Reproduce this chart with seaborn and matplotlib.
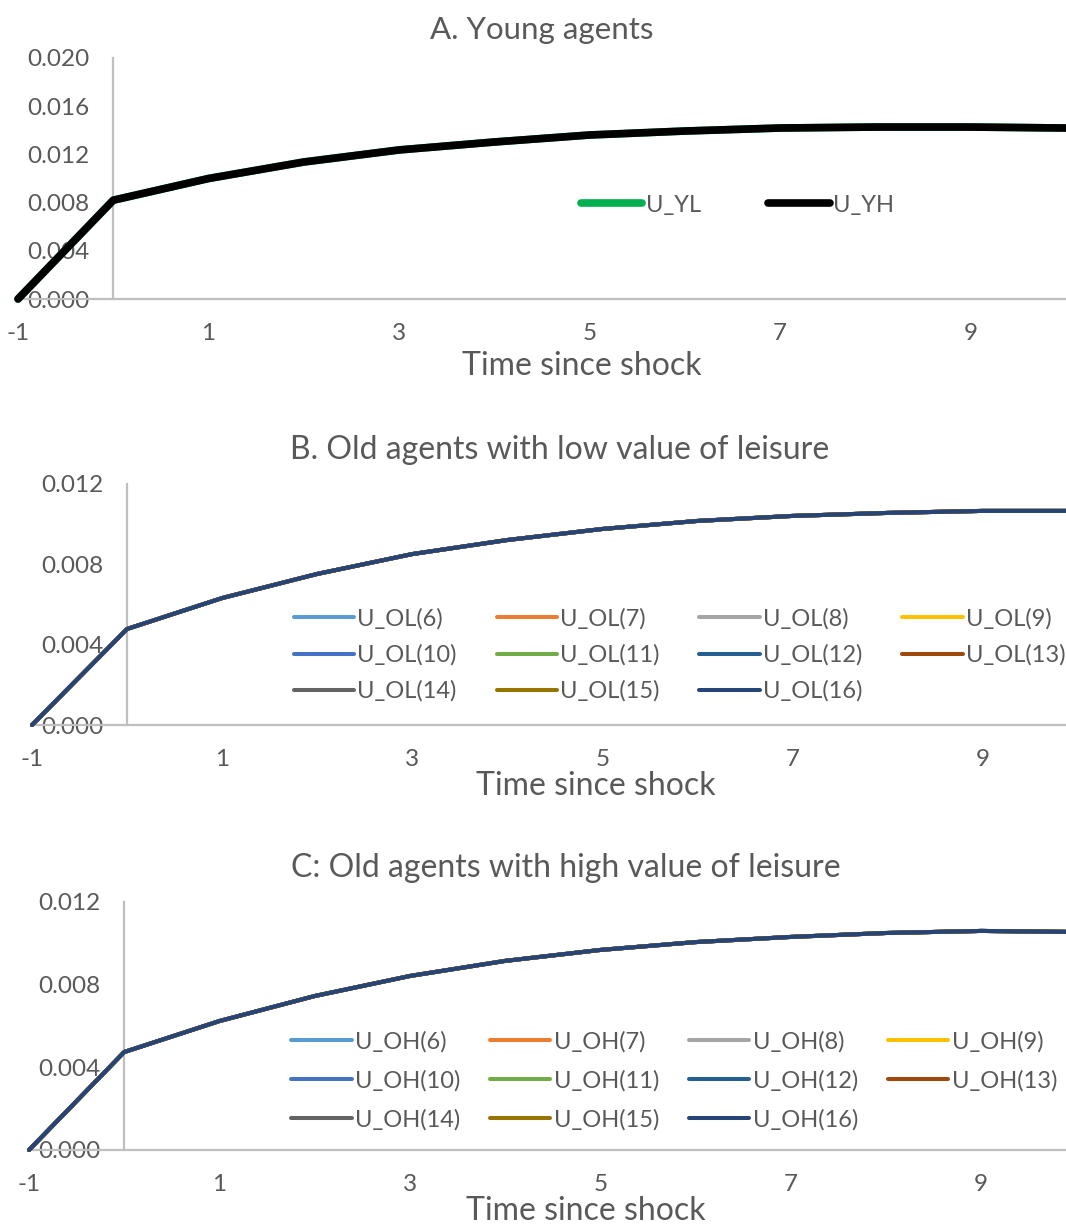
import numpy as np
import pandas as pd
import matplotlib
matplotlib.use("Agg")
import matplotlib.pyplot as plt
import seaborn as sns

# time since shock
t = [-1, 0, 1, 2, 3, 4, 5, 6, 7, 8, 9, 10]

# A. young agents (the two paths lie on top of each other)
u_yl = [0.0, 0.0082, 0.0100, 0.01137, 0.01237, 0.01303, 0.01361, 0.01394, 0.01419, 0.01427, 0.01427, 0.01419]
u_yh = [0.0, 0.0082, 0.0100, 0.01137, 0.01237, 0.01303, 0.01361, 0.01394, 0.01419, 0.01427, 0.01427, 0.01419]

# B / C. old agents, ages 6..16 (all paths overlap in the picture)
ages = [6, 7, 8, 9, 10, 11, 12, 13, 14, 15, 16]
u_ol = [0.0, 0.00478, 0.00632, 0.00752, 0.00851, 0.00921, 0.00976, 0.01016, 0.01041, 0.01056, 0.01066, 0.01066]
u_oh = [0.0, 0.00474, 0.00624, 0.00745, 0.00842, 0.00915, 0.00968, 0.01006, 0.01031, 0.01050, 0.01060, 0.01055]

young_colors = ["#00B050", "#000000"]
old_colors = ["#5B9BD5", "#ED7D31", "#A5A5A5", "#FFC000", "#4472C4", "#70AD47",
              "#255E91", "#9E480E", "#636363", "#997300", "#264478"]

sns.set_style("white")
plt.rcParams["font.family"] = ["Lato", "DejaVu Sans"]
plt.rcParams["axes.unicode_minus"] = False

GRAY = "#595959"
AXIS = "#BFBFBF"
W, H = 1066, 1226
fig = plt.figure(figsize=(W / 100, H / 100), dpi=100)


def px_axes(left, right, top, bottom):
    return fig.add_axes([left / W, 1 - bottom / H, (right - left) / W, (bottom - top) / H])


def style_axes(ax, xmax, ymax, ystep):
    ax.set_xlim(-1, xmax)
    ax.set_ylim(0, ymax)
    for s in ["top", "right"]:
        ax.spines[s].set_visible(False)
    ax.spines["left"].set_position(("data", 0))
    for s in ["left", "bottom"]:
        ax.spines[s].set_color(AXIS)
        ax.spines[s].set_linewidth(1.6)
        ax.spines[s].set_zorder(1)
    ax.set_xticks([-1, 1, 3, 5, 7, 9])
    ax.set_yticks(np.arange(0, ymax + ystep / 2, ystep))
    ax.yaxis.set_major_formatter(matplotlib.ticker.FormatStrFormatter("%.3f"))
    ax.tick_params(axis="both", length=0, labelsize=17.5, colors=GRAY)
    ax.tick_params(axis="y", pad=17)
    ax.tick_params(axis="x", pad=17)
    ax.set_ylabel("")


def row_major(handles, labels, ncol):
    # matplotlib fills legend columns first; reorder so entries read across rows
    n = len(handles)
    nrow = -(-n // ncol)
    order = [r * ncol + c for c in range(ncol) for r in range(nrow) if r * ncol + c < n]
    return [handles[i] for i in order], [labels[i] for i in order]


# ---- A. Young agents
axA = px_axes(18, 1066, 58, 299)
df_y = pd.DataFrame({"t": t * 2, "u": u_yl + u_yh,
                     "series": ["U_YL"] * len(t) + ["U_YH"] * len(t)})
for name, col in zip(["U_YL", "U_YH"], young_colors):
    sns.lineplot(data=df_y[df_y.series == name], x="t", y="u", color=col, linewidth=5.5,
                 label=name, ax=axA, solid_capstyle="round", clip_on=False)
style_axes(axA, 10, 0.020, 0.004)
axA.set_title("A. Young agents", fontsize=22.5, color=GRAY, pad=14)
axA.set_xlabel("Time since shock", fontsize=23, color=GRAY)
axA.xaxis.set_label_coords(0.538, -0.215)
axA.legend(loc="center left", bbox_to_anchor=(0.537, 0.39), ncol=2, frameon=False,
           fontsize=17, labelcolor=GRAY, handlelength=2.6, handletextpad=0.15,
           columnspacing=2.85, borderpad=0, borderaxespad=0)


def old_panel(ax, values, prefix, title, xmax, title_x, xlabel_x, xlabel_y,
              leg_y, colsp, rowsp):
    rows = []
    for a in ages:
        for ti, v in zip(t, values):
            rows.append((ti, v, f"{prefix}({a})"))
    df = pd.DataFrame(rows, columns=["t", "u", "series"])
    for a, col in zip(ages, old_colors):
        name = f"{prefix}({a})"
        sns.lineplot(data=df[df.series == name], x="t", y="u", color=col, linewidth=2.9,
                     label=name, ax=ax, clip_on=False)
    style_axes(ax, xmax, 0.012, 0.004)
    ax.set_title(title, fontsize=23, color=GRAY, pad=18, x=title_x)
    ax.set_xlabel("Time since shock", fontsize=23, color=GRAY)
    ax.xaxis.set_label_coords(xlabel_x, xlabel_y)
    h, l = ax.get_legend_handles_labels()
    h, l = row_major(h, l, 4)
    ax.legend(h, l, loc="center left", bbox_to_anchor=(0.253, leg_y), ncol=4, frameon=False,
              fontsize=17, labelcolor=GRAY, handlelength=2.55, handletextpad=0.15,
              columnspacing=colsp, labelspacing=rowsp, borderpad=0, borderaxespad=0)


axB = px_axes(32, 1066, 484, 725)
old_panel(axB, u_ol, "U_OL", "B. Old agents with low value of leisure", 9.88, 0.51, 0.545, -0.19,
          0.29, 1.68, 0.62)

axC = px_axes(29, 1066, 902, 1150)
old_panel(axC, u_oh, "U_OH", "C: Old agents with high value of leisure", 9.89, 0.518, 0.537, -0.185,
          0.28, 1.26, 0.75)

fig.savefig("out.png", dpi=100)
